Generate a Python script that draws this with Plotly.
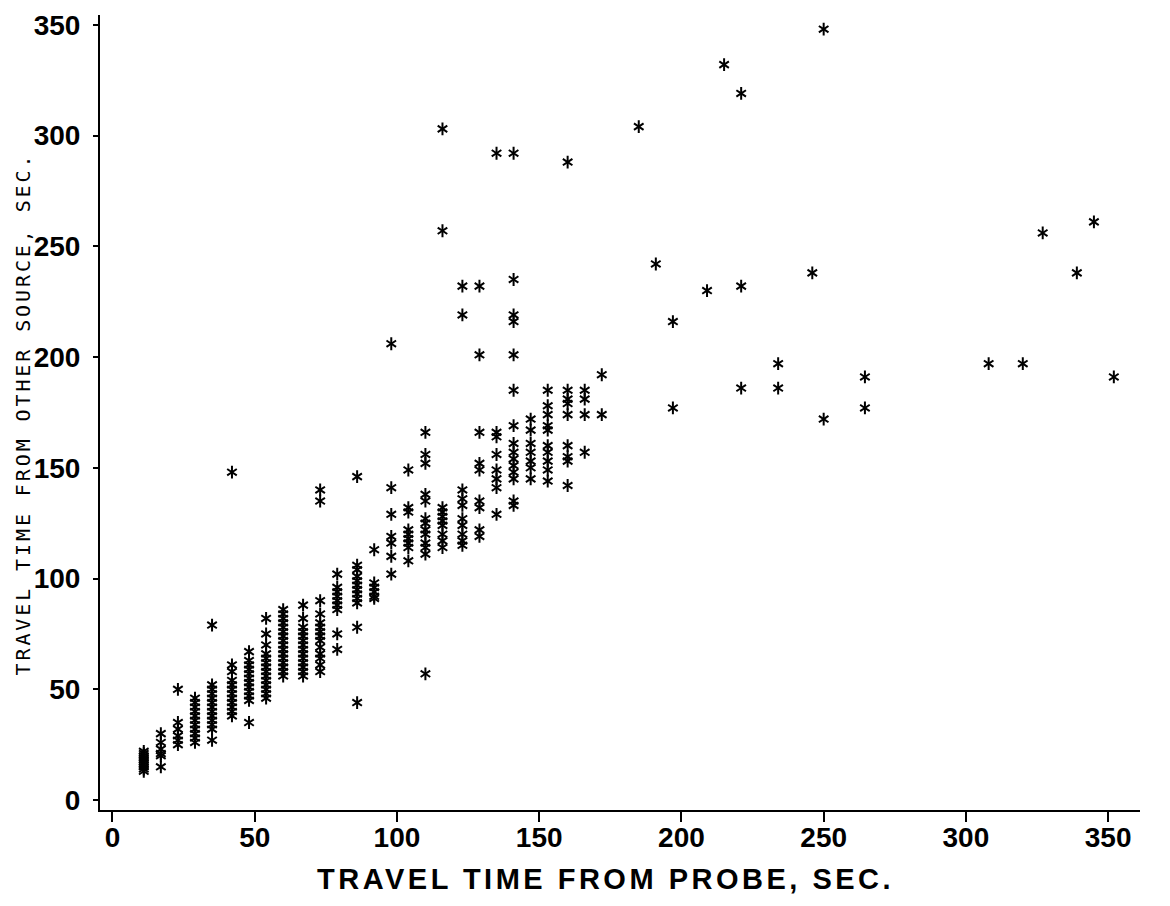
import plotly.graph_objects as go

# probe travel time columns (sec), read off the chart, and the
# "other source" travel times stacked at each of them
probe_cols = [11, 17, 23, 29, 35, 42, 48, 54, 60, 67, 73, 79, 86, 92,
              98, 104, 110, 116, 123, 129, 135, 141, 147, 153, 160, 166, 172,
              185, 191, 197, 209, 215, 221, 234, 246, 250, 264.5,
              308, 320, 327, 339, 345, 352]

other_by_col = [
    [13, 14, 15, 16, 17, 18, 19, 20, 21, 22],
    [30, 26, 23, 21, 20, 15],
    [50, 35, 32, 29, 27, 25],
    [46, 44, 42, 40, 38, 36, 34, 32, 30, 28, 26],
    [79, 52, 50, 48, 46, 44, 42, 40, 38, 36, 34, 32, 27],
    [148, 61, 58, 54, 52, 50, 48, 46, 44, 42, 40, 38],
    [67, 63, 61, 59, 57, 55, 53, 51, 49, 47, 45, 35],
    [82, 75, 70, 66, 64, 62, 60, 58, 56, 54, 52, 50, 48, 46],
    [86, 84, 82, 80, 78, 76, 74, 72, 70, 68, 66, 64, 62, 60, 58, 56],
    [88, 82, 78, 76, 74, 72, 70, 68, 66, 64, 62, 60, 58, 56],
    [140, 135, 90, 84, 80, 78, 76, 74, 72, 69, 66, 64, 61, 58],
    [102, 96, 94, 92, 90, 88, 86, 75, 68],
    [146, 106, 104, 101, 99, 97, 95, 93, 91, 89, 78, 44],
    [113, 98, 96, 94, 92, 91],
    [206, 141, 129, 119, 116, 110, 102],
    [149, 132, 130, 122, 120, 118, 116, 114, 108],
    [166, 156, 152, 138, 135, 127, 125, 122, 120, 116, 114, 111, 57],
    [303, 257, 132, 130, 128, 126, 124, 120, 117, 114],
    [232, 219, 140, 136, 133, 127, 124, 120, 117, 115],
    [232, 201, 166, 152, 149, 135, 132, 122, 119],
    [292, 166, 164, 156, 149, 145, 141, 129],
    [292, 235, 219, 216, 201, 185, 169, 161, 157, 154, 151, 148, 145, 135, 133],
    [172, 167, 161, 157, 153, 150, 145],
    [185, 178, 174, 169, 167, 160, 157, 153, 149, 144],
    [288, 185, 181, 179, 174, 160, 155, 153, 142],
    [185, 181, 174, 157],
    [192, 174],
    [304],
    [242],
    [216, 177],
    [230],
    [332],
    [319, 232, 186],
    [197, 186],
    [238],
    [348, 172],
    [191, 177],
    [197],
    [197],
    [256],
    [238],
    [261],
    [191],
]

tick_vals = [0, 50, 100, 150, 200, 250, 300, 350]

probe = [c for c, ys in zip(probe_cols, other_by_col) for _ in ys]
other = [y for ys in other_by_col for y in ys]

fig = go.Figure()

# 6-spoke asterisk = y-up + y-down drawn on top of each other
for sym in ['y-up-open', 'y-down-open']:
    fig.add_trace(go.Scatter(
        x=probe, y=other, mode='markers', showlegend=False,
        marker=dict(symbol=sym, size=8, color='black',
                    line=dict(color='black', width=2)),
        hoverinfo='skip'
    ))

tick_font = dict(family='Liberation Sans, Arial, sans-serif', size=28,
                 color='black', weight='bold')

fig.update_layout(
    width=1170, height=906,
    paper_bgcolor='white', plot_bgcolor='white',
    margin=dict(l=100, r=30, t=10, b=96),
    xaxis=dict(
        range=[-4.39, 361.2], tickvals=tick_vals, showgrid=False, zeroline=False,
        showline=True, linecolor='black', linewidth=2,
        ticks='outside', ticklen=10, tickwidth=2, tickcolor='black',
        tickfont=tick_font, ticklabelstandoff=-9
    ),
    yaxis=dict(
        range=[-4.49, 354.4], tickvals=tick_vals, showgrid=False, zeroline=False,
        showline=True, linecolor='black', linewidth=2,
        ticks='outside', ticklen=5, tickwidth=2, tickcolor='black',
        tickfont=tick_font, ticklabelstandoff=7
    ),
    annotations=[
        dict(
            text="<span style='letter-spacing:3.5px'>TRAVEL TIME FROM PROBE, SEC.</span>",
            xref='paper', yref='paper', x=(605 - 100) / 1040, y=(810 - 879) / 800,
            xanchor='center', yanchor='middle', showarrow=False,
            font=dict(family='Liberation Sans, Arial, sans-serif', size=29,
                      color='black', weight='bold')
        ),
        dict(
            text="<span style='letter-spacing:2.9px'>TRAVEL TIME FROM OTHER SOURCE, SEC.</span>",
            xref='paper', yref='paper', x=(23 - 100) / 1040, y=(810 - 412) / 800,
            xanchor='center', yanchor='middle', showarrow=False, textangle=-90,
            font=dict(family='DejaVu Sans Mono, monospace', size=20, color='black')
        ),
    ],
)

# the default page body has an 8px margin; drop it so the figure sits at 0,0
fig.write_html("out.html", config={'displayModeBar': False},
               post_script="document.body.style.margin = '0';")
